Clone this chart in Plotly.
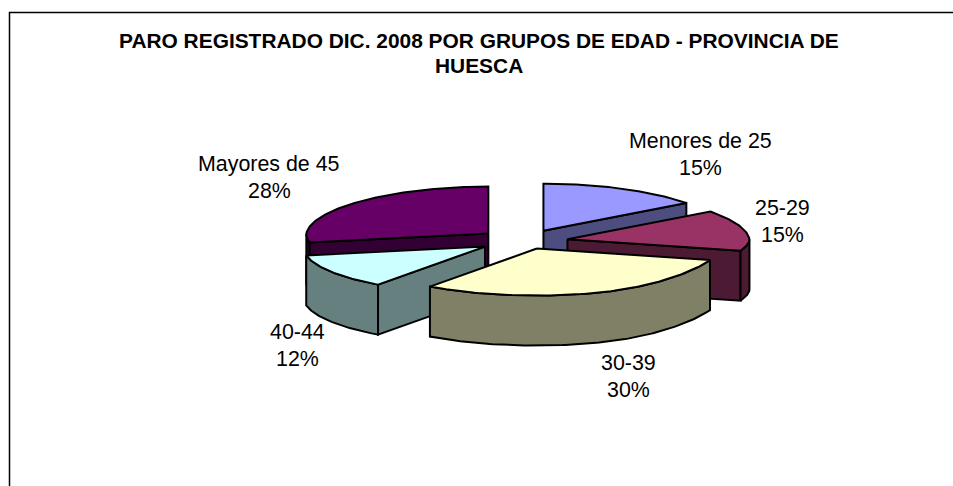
import math
import plotly.graph_objects as go

categories = ["Menores de 25", "25-29", "30-39", "40-44", "Mayores de 45"]
values = [15, 15, 30, 12, 28]
top_colors = ["#9999FF", "#993366", "#FFFFCC", "#CCFFFF", "#660066"]
wall_colors = ["#4D4D80", "#4D1A33", "#808066", "#668080", "#330033"]
title_lines = ["PARO REGISTRADO DIC. 2008 POR GRUPOS DE EDAD - PROVINCIA DE", "HUESCA"]
label_pos = [(700, 141, 168), (782, 208, 235), (628, 363, 390), (297, 332, 359), (269, 164, 191)]

W, H = 953, 486
CX, CY, RX, RY, DEPTH, EXPLODE = 523, 241, 182, 47, 50, 45
BACK_SHRINK = 0.05    # slight perspective: the far side of the pie is narrower
FRONT_FORE = 0.35     # foreshortening of the explosion towards the viewer
RIM_FLATTEN = 0.25    # flattening of the right-front rim
OUTLINE = 2.0


def pt(a, ang, dy=0):
    r = math.radians(ang)
    c, s = math.cos(r), math.sin(r)
    rx = RX * (1 - BACK_SHRINK * max(0.0, c))
    ry = RY
    if 90 < ang < 180:
        ry = RY * (1 - RIM_FLATTEN * s ** 4)
    return a[0] + rx * s, a[1] - ry * c + dy


def arc(a, a0, a1, dy=0):
    n = max(2, int(abs(a1 - a0)) + 1)
    return [pt(a, a0 + (a1 - a0) * i / (n - 1), dy) for i in range(n)]


def poly(fig, pts, fill):
    xs = [p[0] for p in pts] + [pts[0][0]]
    ys = [p[1] for p in pts] + [pts[0][1]]
    fig.add_trace(go.Scatter(x=xs, y=ys, mode="lines", fill="toself", fillcolor=fill,
                             line=dict(color="#000000", width=OUTLINE), hoverinfo="skip",
                             showlegend=False))


total = sum(values)
slices = []
acc = 0.0
for v, top, wall in zip(values, top_colors, wall_colors):
    a0 = acc / total * 360
    acc += v
    a1 = acc / total * 360
    m = math.radians((a0 + a1) / 2)
    cm = math.cos(m)
    fore = 1 - FRONT_FORE * cm * cm if cm < 0 else 1.0
    apex = (CX + EXPLODE * math.sin(m), CY - EXPLODE * RY / RX * cm * fore)
    slices.append(dict(a0=a0, a1=a1, apex=apex, top=top, wall=wall))

fig = go.Figure()
# frame: only left and top edges fall inside the picture
fig.add_shape(type="rect", x0=9.5, y0=12.5, x1=1100, y1=700, line=dict(color="#000000", width=1.5),
              fillcolor="#FFFFFF", layer="below")

# painter's order: back slices first
for i in [0, 4, 1, 3, 2]:
    s = slices[i]
    a = s["apex"]
    if math.sin(math.radians(s["a0"])) < -1e-6:
        p = pt(a, s["a0"])
        poly(fig, [a, p, (p[0], p[1] + DEPTH), (a[0], a[1] + DEPTH)], s["wall"])
    if math.sin(math.radians(s["a1"])) > 1e-6:
        p = pt(a, s["a1"])
        poly(fig, [a, p, (p[0], p[1] + DEPTH), (a[0], a[1] + DEPTH)], s["wall"])
    lo, hi = max(s["a0"], 90), min(s["a1"], 270)
    if hi > lo:
        poly(fig, arc(a, lo, hi) + arc(a, hi, lo, DEPTH), s["wall"])
    poly(fig, [a] + arc(a, s["a0"], s["a1"]), s["top"])

FONT = "Liberation Sans, Arial, sans-serif"
ann = []
for line, y in zip(title_lines, [40, 65]):
    ann.append(dict(x=479, y=y, text=f"<b>{line}</b>", showarrow=False, xref="x", yref="y",
                    font=dict(family=FONT, size=20.9, color="#000000")))
for c, v, (x, y1, y2) in zip(categories, values, label_pos):
    ann.append(dict(x=x, y=y1, text=c, showarrow=False, xref="x", yref="y",
                    font=dict(family=FONT, size=21.4, color="#000000")))
    ann.append(dict(x=x, y=y2, text=f"{round(v / total * 100)}%", showarrow=False, xref="x", yref="y",
                    font=dict(family=FONT, size=21.4, color="#000000")))

fig.update_layout(
    width=W, height=H, margin=dict(l=0, r=0, t=0, b=0), autosize=False,
    paper_bgcolor="#FFFFFF", plot_bgcolor="#FFFFFF", annotations=ann,
    xaxis=dict(range=[0, W], visible=False, fixedrange=True),
    yaxis=dict(range=[H, 0], visible=False, fixedrange=True),
)
fig.write_html("out.html", config=dict(displayModeBar=False),
               default_width=f"{W}px", default_height=f"{H}px",
               post_script="document.body.style.margin='0';document.body.style.overflow='hidden';")
